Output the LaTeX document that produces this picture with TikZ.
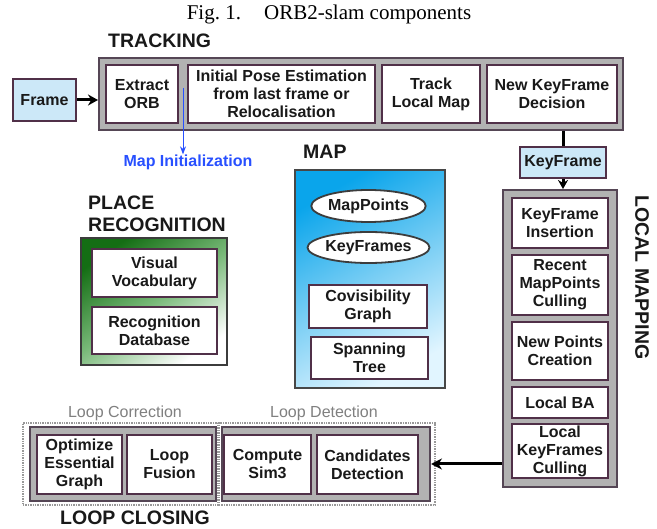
\documentclass[tikz,border=0pt]{standalone}
\usepackage{fontspec}
\setmainfont{Liberation Serif}
\setsansfont{Liberation Sans}
\usetikzlibrary{arrows.meta,shapes.geometric,calc}
\definecolor{bordc}{RGB}{80,48,72}
\definecolor{outc}{RGB}{85,70,85}
\definecolor{grayfill}{RGB}{178,178,178}
\definecolor{lblue}{RGB}{204,232,248}
\definecolor{miblue}{RGB}{40,80,255}
\definecolor{txt}{RGB}{25,25,25}
\definecolor{dgreen}{RGB}{20,110,20}
\definecolor{mgreen}{RGB}{120,185,120}
\definecolor{mapblue}{RGB}{10,165,235}
\definecolor{maplight}{RGB}{225,245,255}
\begin{document}
\begin{tikzpicture}[x=1pt,y=-1pt,
  bx/.style={draw=bordc, line width=1.8pt, fill=white, align=center, inner sep=0pt,
    text=txt, font=\sffamily\bfseries\fontsize{16}{18}\selectfont},
  grp/.style={draw=outc, line width=2pt, fill=grayfill, inner sep=0pt},
  ttl/.style={text=txt, inner sep=0pt, font=\sffamily\bfseries\fontsize{19.5}{22}\selectfont},
  sub/.style={text=gray, inner sep=0pt, font=\sffamily\fontsize{16}{18}\selectfont},
  dotbox/.style={draw=gray!80, line width=1.4pt, densely dotted, inner sep=0pt},
  ell/.style={ellipse, draw=txt!85, line width=1.8pt, fill=white, inner sep=0pt,
    text=txt, font=\sffamily\bfseries\fontsize{16}{18}\selectfont},
  conn/.style={line width=3pt},
  lbl/.style={inner sep=0pt, font=\sffamily\bfseries\fontsize{16}{18}\selectfont}
]
\useasboundingbox (0,0) rectangle (657,529);
\fill[white] (0,0) rectangle (657,529);

% caption
\node[inner sep=0pt, font=\rmfamily\fontsize{21}{24}\selectfont] (cap) at (329,14) {Fig.~1.\hspace{1.1em}ORB2-slam components};

% TRACKING
\node[ttl, anchor=west] (trkl) at (108,41) {TRACKING};
\node[grp, minimum width=524pt, minimum height=72pt] (trk) at (361,94) {};
\node[bx, minimum width=72pt, minimum height=58pt] (eo) at (142,94) {Extract\\ORB};
\node[bx, minimum width=187pt, minimum height=58pt] (ipe) at (281.5,94) {Initial Pose Estimation\\from last frame or\\Relocalisation};
\node[bx, minimum width=98pt, minimum height=58pt] (tlm) at (431,94) {Track\\Local Map};
\node[bx, minimum width=130pt, minimum height=58pt] (nkf) at (552,94) {New KeyFrame\\Decision};
\node[bx, fill=lblue, minimum width=63pt, minimum height=42pt] (frame) at (44.5,100) {Frame};
\draw[conn, -{Stealth[length=10pt,width=11pt]}] (frame.east) -- (trk.west |- frame.east);

% Map initialization
\coordinate (mist) at (183,88);
\node[lbl, text=miblue] (mi) at (188,162) {Map Initialization};
\draw[miblue, line width=1pt, -{Stealth[length=8pt,width=6pt]}] (mist) -- (mist |- mi.north);

% KeyFrame
\node[bx, fill=lblue, minimum width=86pt, minimum height=31pt] (kf) at (563,162.5) {KeyFrame};
\draw[conn] (kf.north |- trk.south) -- (kf.north);

% LOCAL MAPPING
\node[grp, minimum width=114pt, minimum height=297pt] (lm) at (560,338.5) {};
\node[bx, minimum width=96pt, minimum height=50pt] (kfi) at (560,223) {KeyFrame\\Insertion};
\node[bx, minimum width=96pt, minimum height=60pt] (rmc) at (560,285) {Recent\\MapPoints\\Culling};
\node[bx, minimum width=96pt, minimum height=58pt] (npc) at (560,351) {New Points\\Creation};
\node[bx, minimum width=96pt, minimum height=31pt] (lba) at (560,402.5) {Local BA};
\node[bx, minimum width=96pt, minimum height=54pt] (lkc) at (560,451) {Local\\KeyFrames\\Culling};
\node[ttl, rotate=-90] (lml) at (642,277.5) {LOCAL MAPPING};
\draw[conn, -{Stealth[length=9pt,width=10pt]}] (kf.south) -- (lm.north -| kf.south);

% MAP
\node[ttl, anchor=west] (mapl) at (303,152) {MAP};
\node[draw=txt!80, line width=1.6pt, inner sep=0pt, minimum width=150pt, minimum height=218pt,
  shading=axis, top color=mapblue, bottom color=maplight, middle color=mapblue!55!white, shading angle=30] (mapb) at (370,279) {};
\node[ell, minimum width=113pt, minimum height=32pt] (mp) at (368.5,206) {MapPoints};
\node[ell, minimum width=113pt, minimum height=31pt] (kfs) at (368.5,247.5) {KeyFrames};
\node[bx, minimum width=118pt, minimum height=43pt] (cg) at (368,306.5) {Covisibility\\Graph};
\node[bx, minimum width=117pt, minimum height=42pt] (st) at (369.5,358) {Spanning\\Tree};

% PLACE RECOGNITION
\node[ttl, anchor=west, align=left] (prl) at (88,214) {PLACE\\RECOGNITION};
\node[draw=txt!85, line width=1.6pt, inner sep=0pt, minimum width=146pt, minimum height=127pt,
  shading=axis, top color=dgreen, bottom color=white, middle color=mgreen, shading angle=35] (pr) at (154,301.5) {};
\node[bx, minimum width=125pt, minimum height=48pt] (vv) at (154.5,273) {Visual\\Vocabulary};
\node[bx, minimum width=125pt, minimum height=47pt] (rd) at (154.5,330.5) {Recognition\\Database};

% LOOP CLOSING
\node[dotbox, minimum width=195pt, minimum height=82pt] (lcd) at (120.5,464) {};
\node[dotbox, minimum width=216pt, minimum height=82pt] (ldd) at (327,464) {};
\node[grp, minimum width=186pt, minimum height=74pt] (lcg) at (123,464) {};
\node[grp, minimum width=208pt, minimum height=74pt] (ldg) at (326,464) {};
\node[bx, minimum width=85pt, minimum height=59pt] (oeg) at (79.5,464.5) {Optimize\\Essential\\Graph};
\node[bx, minimum width=85pt, minimum height=59pt] (lf) at (169.5,464.5) {Loop\\Fusion};
\node[bx, minimum width=87pt, minimum height=59pt] (cs) at (267.5,464.5) {Compute\\Sim3};
\node[bx, minimum width=101pt, minimum height=59pt] (cd) at (367.5,464.5) {Candidates\\Detection};
\node[sub] (lcl) at (125,413) {Loop Correction};
\node[sub] (ldl) at (324,413) {Loop Detection};
\node[ttl, anchor=west] (lcll) at (60,518) {LOOP CLOSING};
\draw[conn, -{Stealth[length=11pt,width=11pt]}] (lm.west |- ldg.east) -- (ldg.east);
\end{tikzpicture}
\end{document}
